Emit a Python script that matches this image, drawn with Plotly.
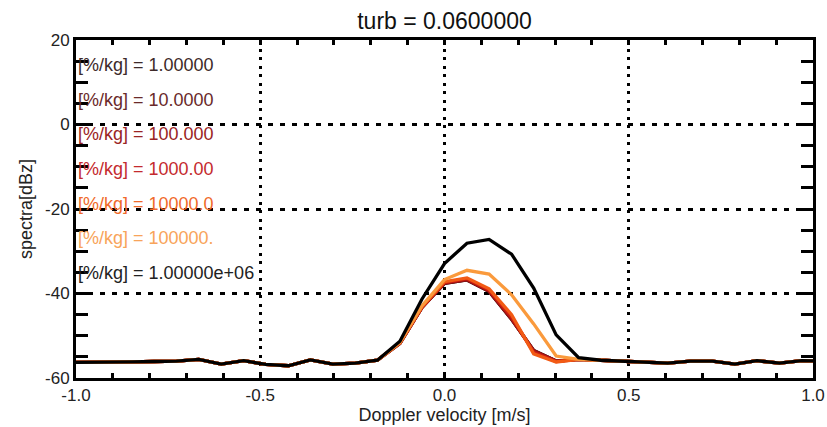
import plotly.graph_objects as go

# Doppler velocity bins [m/s]
velocity = [-1.030, -0.970, -0.909, -0.848, -0.788, -0.727, -0.667, -0.606,
            -0.545, -0.485, -0.424, -0.364, -0.303, -0.242, -0.182, -0.121,
            -0.061, 0.000, 0.061, 0.121, 0.182, 0.242, 0.303, 0.364,
            0.424, 0.485, 0.545, 0.606, 0.667, 0.727, 0.788, 0.848,
            0.909, 0.970, 1.030]

# noise floor shared by every spectrum [dBz]
floor_left = [-56.3, -56.3, -56.2, -56.2, -56.1, -56.0, -55.6, -56.7,
              -55.9, -56.8, -57.1, -55.7, -56.7, -56.5, -55.8]
floor_right = [-55.8, -56.0, -56.3, -56.5, -56.0, -56.0, -56.7, -55.9,
               -56.5, -55.9, -56.0]

# signal part of each spectrum, velocities -0.121 ... 0.364 m/s [dBz]
peak_1e0 = [-51.8, -43.3, -37.6, -36.8, -39.5, -46.1, -53.5, -56.0, -55.6]
peak_1e1 = [-51.8, -43.3, -37.6, -36.8, -39.5, -46.1, -53.5, -56.0, -55.6]
peak_1e2 = [-51.8, -43.3, -37.5, -36.7, -39.4, -46.0, -53.6, -56.0, -55.6]
peak_1e3 = [-51.7, -43.2, -37.4, -36.5, -39.2, -45.6, -53.9, -56.1, -55.6]
peak_1e4 = [-51.7, -43.1, -37.2, -36.3, -38.9, -45.0, -54.3, -56.2, -55.6]
peak_1e5 = [-51.6, -42.9, -36.7, -34.5, -35.4, -40.3, -47.2, -54.8, -55.6]
peak_1e6 = [-51.3, -41.3, -32.9, -28.1, -27.2, -30.7, -38.7, -49.8, -55.2]

peaks = [peak_1e0, peak_1e1, peak_1e2, peak_1e3, peak_1e4, peak_1e5, peak_1e6]

labels = ["[%/kg] = 1.00000", "[%/kg] = 10.0000", "[%/kg] = 100.000",
          "[%/kg] = 1000.00", "[%/kg] = 10000.0", "[%/kg] = 100000.",
          "[%/kg] = 1.00000e+06"]

line_colors = ["#3a0c0c", "#6a1414", "#9c1414", "#cc1c12", "#f25a14",
               "#fa9a3c", "#000000"]
text_colors = ["#3d2a2a", "#6a2a2a", "#9a2424", "#c42a2e", "#f06a2a",
               "#f8a45a", "#222222"]

x_ticks = [-1.0, -0.5, 0.0, 0.5, 1.0]
x_tick_text = ["-1.0", "-0.5", "0.0", "0.5", "1.0"]
y_ticks = [-60, -40, -20, 0, 20]
y_tick_text = ["-60", "-40", "-20", "0", "20"]

FONT = "Liberation Sans, Arial, Helvetica, sans-serif"

fig = go.Figure()
for peak, color in zip(peaks, line_colors):
    fig.add_trace(go.Scatter(
        x=velocity, y=floor_left + peak + floor_right, mode="lines",
        line=dict(color=color, width=3.3), showlegend=False, hoverinfo="skip"))

# labels stacked down the left edge of the plot
for i, (txt, col) in enumerate(zip(labels, text_colors)):
    fig.add_annotation(
        text=txt, xref="paper", yref="paper", x=0, xshift=0,
        y=0.925 - i * 0.1022, xanchor="left", yanchor="middle",
        showarrow=False, font=dict(family=FONT, size=18, color=col))

axis_common = dict(
    showline=True, linecolor="black", linewidth=3, mirror="allticks",
    ticks="inside", tickcolor="black", tickwidth=2.5,
    showgrid=True, gridcolor="black", gridwidth=3, zeroline=False,
    automargin=False,
    tickfont=dict(family=FONT, size=17, color="#222222"),
)

fig.update_layout(
    width=827, height=427,
    margin=dict(l=76, r=14, t=40, b=49),
    paper_bgcolor="white", plot_bgcolor="white",
    title=dict(text="turb = 0.0600000", x=0.5, xref="paper", xanchor="center",
               y=1 - 21 / 427, yref="container", yanchor="middle",
               font=dict(family=FONT, size=23, color="#111111")),
    xaxis=dict(
        range=[-1, 1], tickvals=x_ticks, ticktext=x_tick_text, ticklen=5,
        griddash="3px,5.5px",
        minor=dict(dtick=0.1, tick0=0, ticks="inside", ticklen=5,
                   tickwidth=2.5, tickcolor="black", showgrid=False),
        title=dict(text="Doppler velocity [m/s]", standoff=2,
                   font=dict(family=FONT, size=18, color="#222222")),
        **axis_common),
    yaxis=dict(
        range=[-60, 20], tickvals=y_ticks, ticktext=y_tick_text, ticklen=12,
        griddash="5px,7px",
        minor=dict(dtick=5, tick0=0, ticks="inside", ticklen=12,
                   tickwidth=2.5, tickcolor="black", showgrid=False),
        title=dict(text="spectra[dBz]", standoff=8,
                   font=dict(family=FONT, size=18, color="#222222")),
        **axis_common),
)

fig.write_html("out.html")
